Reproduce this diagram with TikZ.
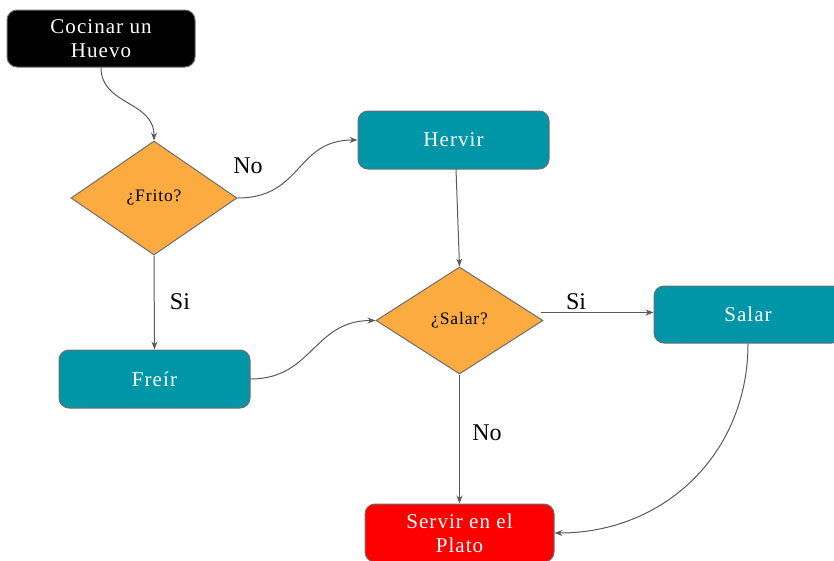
\documentclass[tikz,border=0pt]{standalone}
\usepackage{fontspec}
\setmainfont{Liberation Serif}
\newfontfamily\boxfont{Liberation Serif}[LetterSpace=5]
\usetikzlibrary{shapes.geometric,arrows.meta}
\definecolor{tealbox}{RGB}{0,150,167}
\definecolor{orangedia}{RGB}{251,171,64}
\definecolor{edgegray}{RGB}{90,90,90}
\definecolor{bordergray}{RGB}{110,110,110}
\tikzset{
  procbox/.style={draw=bordergray, line width=1pt, rounded corners=10pt, fill=tealbox,
    text=white, align=center, inner sep=0pt,
    font=\boxfont\fontsize{21}{24}\selectfont},
  startbox/.style={procbox, fill=black},
  endbox/.style={procbox, fill=red},
  decision/.style={draw=bordergray, line width=1pt, shape=diamond, fill=orangedia,
    inner sep=0pt, text=black, font=\boxfont\fontsize{17.5}{20}\selectfont},
  lbl/.style={font=\fontsize{24}{28}\selectfont, text=black, inner sep=0pt},
  conn/.style={draw=edgegray, line width=1pt, -{Stealth[length=8pt,width=6pt]}},
}
\begin{document}
\begin{tikzpicture}[x=1pt,y=-1pt]
\useasboundingbox (0,0) rectangle (834,560);
\node[startbox, minimum width=188pt, minimum height=57pt] (start) at (101,38.5) {Cocinar un\\Huevo};
\node[decision, minimum width=166pt, minimum height=114pt, aspect=1.456] (frito) at (154,198) {¿Frito?};
\node[procbox, minimum width=191pt, minimum height=58pt] (hervir) at (453.5,140) {Hervir};
\node[procbox, minimum width=191pt, minimum height=58pt] (freir) at (154.5,379) {Freír};
\node[decision, minimum width=167pt, minimum height=107pt, aspect=1.56] (salard) at (459.5,320.5) {¿Salar?};
\node[procbox, minimum width=188pt, minimum height=57pt] (salar) at (748,314.5) {Salar};
\node[endbox, minimum width=189pt, minimum height=58pt] (servir) at (459.5,533) {Servir en el\\Plato};

\coordinate (sdR) at (541,312.5);
\coordinate (hB) at (456,169);

\draw[conn] (start.south) .. controls ++(0,38) and ++(0,-40) .. (frito.north);
\draw[conn] (frito.east) .. controls ++(65,0) and ++(-62,0) .. (hervir.west);
\draw[conn] (frito.south) -- (freir.north);
\draw[conn] (hB) -- (salard.north);
\draw[conn] (freir.east) .. controls ++(62,0) and ++(-62,0) .. (salard.west);
\draw[conn] (sdR) -- (salar.west |- sdR);
\draw[conn] (salard.south) -- (servir.north);
\draw[conn] (salar.south) .. controls ++(0,110) and ++(110,0) .. (servir.east);

\node[lbl] (lno1) at (248,166) {No};
\node[lbl] (lsi1) at (180,302) {Si};
\node[lbl] (lsi2) at (576,302) {Si};
\node[lbl] (lno2) at (487,433) {No};
\end{tikzpicture}
\end{document}
